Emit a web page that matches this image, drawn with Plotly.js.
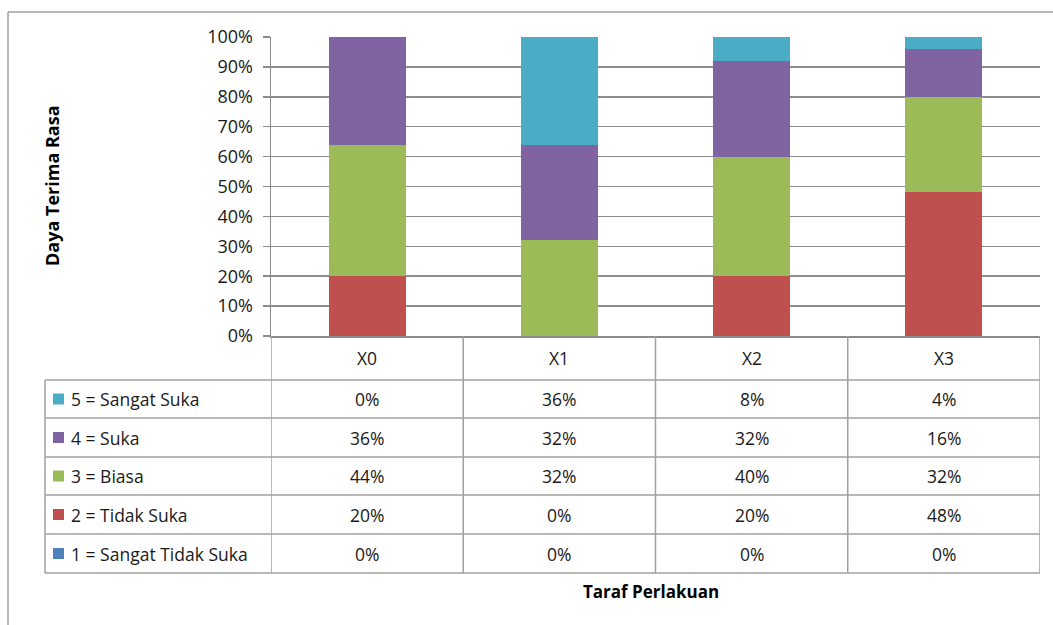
<!DOCTYPE html>
<html>
<head>
<meta charset="utf-8">
<script src="https://cdn.plot.ly/plotly-3.0.1.min.js"></script>
<style>html,body{margin:0;padding:0;background:#fff;}#chart{width:1053px;height:625px;}</style>
</head>
<body>
<div id="chart"></div>
<script>
// ---- data ----
const categories = ["X0", "X1", "X2", "X3"];
const seriesNames = ["1 = Sangat Tidak Suka", "2 = Tidak Suka", "3 = Biasa", "4 = Suka", "5 = Sangat Suka"];
const s1 = [0, 0, 0, 0];
const s2 = [20, 0, 20, 48];
const s3 = [44, 32, 40, 32];
const s4 = [36, 32, 32, 16];
const s5 = [0, 36, 8, 4];
const seriesColors = ["#4F81BD", "#C0504D", "#9BBB59", "#8064A2", "#4BACC6"];
const yTitle = "Daya Terima Rasa";
const xTitle = "Taraf Perlakuan";

const seriesValues = [s1, s2, s3, s4, s5];

// ---- geometry helpers (pixel -> paper) ----
const W = 1053, H = 625;
const M = {l: 271, r: 13, t: 37, b: 289};
const PW = W - M.l - M.r, PH = H - M.t - M.b;
const px = p => (p - M.l) / PW;
const py = p => (H - M.b - p) / PH;

const gridColor = "#8c8c8c";
const tableColor = "#a0a0a0";
const font = "'Open Sans', 'DejaVu Sans', sans-serif";
const textColor = "#1a1a1a";
const fs = 17.5;

const traces = seriesValues.map((vals, i) => ({
  type: "bar",
  name: seriesNames[i],
  x: categories,
  y: vals,
  marker: {color: seriesColors[i], line: {width: 0}},
  width: 0.4,
  hoverinfo: "skip"
}));

// table rows: top row = series 5, bottom row = series 1
const rowTops = [380, 418, 457, 495, 534];
const rowBottom = 573;
const shapes = [];
const annotations = [];

// outer chart border (left + top)
shapes.push({type: "line", xref: "paper", yref: "paper", x0: px(8), x1: px(8), y0: py(12), y1: py(H + 5), line: {color: tableColor, width: 1.5}});
shapes.push({type: "line", xref: "paper", yref: "paper", x0: px(8), x1: px(W + 5), y0: py(12), y1: py(12), line: {color: tableColor, width: 1.5}});

// horizontal table lines
rowTops.concat([rowBottom]).forEach(y => {
  shapes.push({type: "line", xref: "paper", yref: "paper", x0: px(45), x1: 1, y0: py(y), y1: py(y), line: {color: tableColor, width: 1.5}});
});
// left border of legend column
shapes.push({type: "line", xref: "paper", yref: "paper", x0: px(45), x1: px(45), y0: py(rowTops[0]), y1: py(rowBottom), line: {color: tableColor, width: 1.5}});
// column separators at category boundaries
for (let k = 0; k <= categories.length; k++) {
  shapes.push({type: "line", xref: "x", yref: "paper", x0: k - 0.5, x1: k - 0.5, y0: 0, y1: py(rowBottom), line: {color: tableColor, width: 1.5}});
}

// header labels
categories.forEach((c, j) => {
  annotations.push({xref: "x", yref: "paper", x: c, y: py(358), text: c, showarrow: false,
    xanchor: "center", yanchor: "middle", font: {family: font, size: fs, color: textColor}});
});

// rows
for (let r = 0; r < 5; r++) {
  const si = 4 - r;
  const top = rowTops[r];
  const bot = r < 4 ? rowTops[r + 1] : rowBottom;
  const mid = (top + bot) / 2;
  // legend key
  shapes.push({type: "rect", xref: "paper", yref: "paper", x0: px(53), x1: px(64), y0: py(mid - 5.5), y1: py(mid + 5.5),
    fillcolor: seriesColors[si], line: {width: 0}});
  annotations.push({xref: "paper", yref: "paper", x: px(69), y: py(mid), text: seriesNames[si], showarrow: false,
    xanchor: "left", yanchor: "middle", font: {family: font, size: fs, color: textColor}});
  categories.forEach((c, j) => {
    annotations.push({xref: "x", yref: "paper", x: c, y: py(mid), text: seriesValues[si][j] + "%", showarrow: false,
      xanchor: "center", yanchor: "middle", font: {family: font, size: fs, color: textColor}});
  });
}

// axis titles
annotations.push({xref: "paper", yref: "paper", x: px(52), y: py(186), text: "<b>" + yTitle + "</b>", showarrow: false,
  textangle: -90, xanchor: "center", yanchor: "middle", font: {family: font, size: 18, color: "#000"}});
annotations.push({xref: "paper", yref: "paper", x: px(651), y: py(591), text: "<b>" + xTitle + "</b>", showarrow: false,
  xanchor: "center", yanchor: "middle", font: {family: font, size: 17, color: "#000"}});

const layout = {
  width: W, height: H,
  margin: M,
  paper_bgcolor: "#fff", plot_bgcolor: "#fff",
  barmode: "stack",
  showlegend: false,
  xaxis: {type: "category", range: [-0.5, 3.5], showticklabels: false, ticks: "", showgrid: false,
    showline: true, linecolor: gridColor, linewidth: 1.5, zeroline: false, fixedrange: true},
  yaxis: {range: [0, 100], dtick: 10, ticksuffix: "%", showgrid: true, gridcolor: gridColor, gridwidth: 1.5,
    ticks: "outside", ticklen: 7, tickcolor: gridColor, tickwidth: 1.5, ticklabelstandoff: 6,
    showline: true, linecolor: gridColor, linewidth: 1.5, zeroline: false,
    tickfont: {family: font, size: 18, color: textColor}, fixedrange: true},
  shapes: shapes,
  annotations: annotations,
  font: {family: font}
};

Plotly.newPlot("chart", traces, layout, {displayModeBar: false, staticPlot: true});
</script>
</body>
</html>
